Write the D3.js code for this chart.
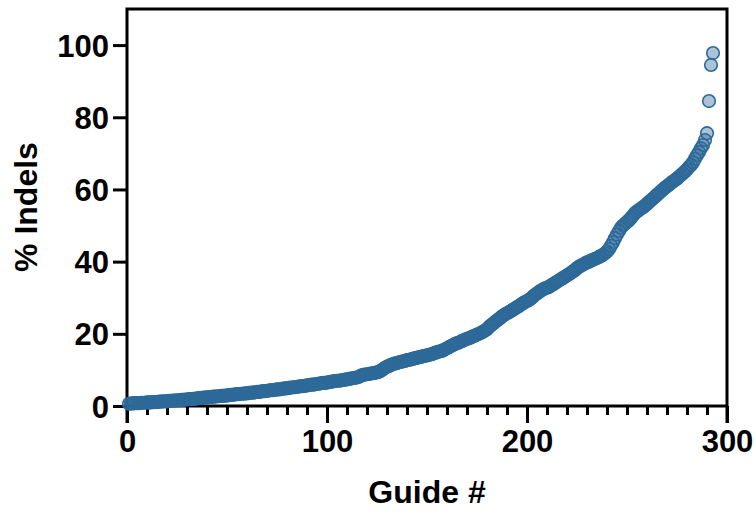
<!DOCTYPE html>
<html>
<head>
<meta charset="utf-8">
<script src="https://cdn.jsdelivr.net/npm/d3@7"></script>
<style>
  body { margin: 0; background: #fff; }
  text { font-family: "Liberation Sans", Arial, sans-serif; font-weight: bold; fill: #000; }
</style>
</head>
<body>
<div id="chart"></div>
<script>
// % indels per guide, sorted ascending
var indels = [
  0.6, 0.7, 0.7, 0.8, 0.8, 0.8, 0.9, 0.9, 0.9, 1.0,
  1.0, 1.0, 1.1, 1.1, 1.1, 1.2, 1.2, 1.3, 1.3, 1.3,
  1.4, 1.4, 1.5, 1.5, 1.6, 1.6, 1.7, 1.7, 1.8, 1.8,
  1.9, 1.9, 2.0, 2.0, 2.1, 2.2, 2.2, 2.3, 2.3, 2.4,
  2.5, 2.5, 2.6, 2.6, 2.7, 2.7, 2.8, 2.8, 2.9, 2.9,
  3.0, 3.1, 3.1, 3.2, 3.3, 3.3, 3.4, 3.4, 3.5, 3.5,
  3.6, 3.7, 3.7, 3.8, 3.9, 3.9, 4.0, 4.1, 4.1, 4.2,
  4.3, 4.4, 4.4, 4.5, 4.6, 4.6, 4.7, 4.8, 4.9, 4.9,
  5.0, 5.1, 5.2, 5.2, 5.3, 5.4, 5.5, 5.5, 5.6, 5.7,
  5.8, 5.9, 5.9, 6.0, 6.1, 6.2, 6.3, 6.4, 6.4, 6.5,
  6.6, 6.7, 6.8, 6.9, 7.0, 7.0, 7.1, 7.2, 7.3, 7.4,
  7.5, 7.6, 7.7, 7.8, 7.9, 8.1, 8.4, 8.6, 8.7, 8.8,
  8.9, 9.0, 9.1, 9.2, 9.3, 9.5, 9.8, 10.2, 10.6, 10.9,
  11.1, 11.4, 11.6, 11.8, 11.9, 12.1, 12.2, 12.4, 12.5, 12.7,
  12.8, 12.9, 13.1, 13.2, 13.4, 13.5, 13.6, 13.8, 13.9, 14.0,
  14.2, 14.3, 14.5, 14.7, 14.9, 15.1, 15.2, 15.4, 15.7, 16.0,
  16.3, 16.6, 16.9, 17.2, 17.4, 17.6, 17.9, 18.1, 18.4, 18.6,
  18.8, 19.0, 19.3, 19.5, 19.8, 20.0, 20.3, 20.6, 20.9, 21.3,
  21.9, 22.4, 22.8, 23.3, 23.7, 24.1, 24.6, 25.0, 25.4, 25.7,
  26.0, 26.3, 26.7, 27.0, 27.4, 27.7, 28.1, 28.5, 28.8, 29.1,
  29.4, 29.8, 30.3, 30.8, 31.2, 31.6, 32.0, 32.3, 32.6, 32.8,
  33.0, 33.4, 33.7, 34.1, 34.4, 34.8, 35.1, 35.5, 35.8, 36.2,
  36.5, 36.9, 37.3, 37.7, 38.2, 38.6, 38.9, 39.2, 39.5, 39.8,
  40.0, 40.3, 40.5, 40.8, 41.0, 41.3, 41.6, 41.9, 42.3, 42.8,
  43.5, 44.4, 45.4, 46.5, 47.5, 48.5, 49.4, 50.0, 50.5, 51.0,
  51.5, 52.1, 52.8, 53.5, 53.9, 54.3, 54.7, 55.1, 55.5, 56.0,
  56.5, 57.0, 57.5, 58.0, 58.5, 59.0, 59.5, 60.0, 60.5, 60.9,
  61.3, 61.8, 62.2, 62.6, 63.0, 63.5, 64.0, 64.5, 65.0, 65.5,
  66.2, 66.8, 67.5, 68.5, 69.5, 70.4, 71.4, 72.3, 73.7, 75.6,
  84.5, 94.5, 97.8
];
var yTicks = [0, 20, 40, 60, 80, 100];
var xTicks = [0, 100, 200, 300];
var xMinorTicks = d3.range(10, 300, 10).filter(function(v) { return v % 100 !== 0; });

var svg = d3.select('#chart').append('svg')
  .attr('width', 756)
  .attr('height', 514);

var x = d3.scaleLinear().domain([0, 300]).range([127, 727]);
var y = d3.scaleLinear().domain([0, 110]).range([406, 9]);

var axisColor = '#000';

// y axis
var yAxis = svg.append('g')
  .attr('transform', 'translate(' + x(0) + ',0)')
  .call(d3.axisLeft(y).tickValues(yTicks).tickSize(14).tickPadding(4).tickSizeOuter(0));
yAxis.select('.domain').remove();
yAxis.selectAll('line').attr('stroke', axisColor).attr('stroke-width', 3);
yAxis.selectAll('text').style('font-size', '31px').attr('dy', '0.36em');

// x axis: major + minor ticks
var xAxis = svg.append('g')
  .attr('transform', 'translate(0,' + y(0) + ')')
  .call(d3.axisBottom(x).tickValues(xTicks).tickSize(17).tickPadding(7).tickSizeOuter(0));
xAxis.select('.domain').remove();
xAxis.selectAll('line').attr('stroke', axisColor).attr('stroke-width', 3);
xAxis.selectAll('text').style('font-size', '31px');

svg.append('g')
  .attr('transform', 'translate(0,' + y(0) + ')')
  .call(d3.axisBottom(x).tickValues(xMinorTicks).tickSize(9).tickFormat(''))
  .call(function(g) { g.select('.domain').remove(); })
  .selectAll('line').attr('stroke', axisColor).attr('stroke-width', 3);

// frame
svg.append('path')
  .attr('d', 'M' + x(0) + ',' + (y(0) + 17) + 'V' + y(110) + 'H' + x(300) + 'V' + (y(0) + 17))
  .attr('fill', 'none')
  .attr('stroke', axisColor)
  .attr('stroke-width', 3);
svg.append('line')
  .attr('x1', x(0)).attr('x2', x(300))
  .attr('y1', y(0)).attr('y2', y(0))
  .attr('stroke', axisColor)
  .attr('stroke-width', 3);

// points
svg.append('g').selectAll('circle').data(indels)
  .enter().append('circle')
  .attr('cx', function(d, i) { return x(i + 1); })
  .attr('cy', function(d) { return y(d); })
  .attr('r', 6.3)
  .attr('fill', 'rgba(44,104,152,0.4)')
  .attr('stroke', '#2d6a99')
  .attr('stroke-width', 1.6);

// titles
svg.append('text')
  .attr('x', 427)
  .attr('y', 503)
  .attr('text-anchor', 'middle')
  .style('font-size', '32px')
  .text('Guide #');

svg.append('text')
  .attr('transform', 'translate(37,207) rotate(-90)')
  .attr('text-anchor', 'middle')
  .style('font-size', '32px')
  .text('% Indels');
</script>
</body>
</html>
